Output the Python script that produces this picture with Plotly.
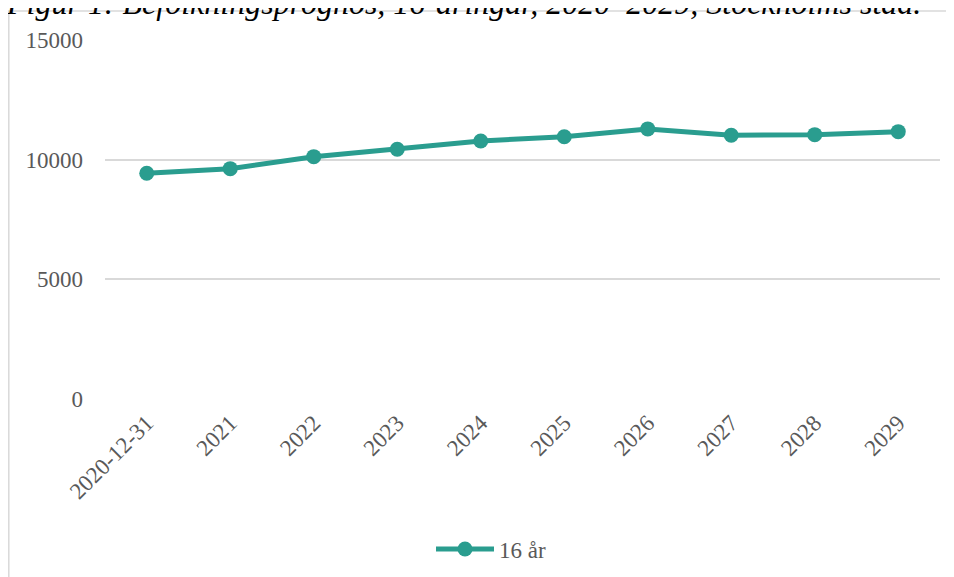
import plotly.graph_objects as go

categories = ["2020-12-31", "2021", "2022", "2023", "2024", "2025", "2026", "2027", "2028", "2029"]
values_16 = [9430, 9625, 10125, 10435, 10780, 10960, 11285, 11020, 11045, 11170]
series_name = "16 år"
title_text = "Figur 1: Befolkningsprognos, 16-åringar, 2020–2029, Stockholms stad."
y_ticks = [0, 5000, 10000, 15000]
y_ticktext = ["0", "5000", "10000", "15000"]

# page body offset (default 8px margin of the html body)
OFF = 8
W, H = 954, 577
# plot area in screen pixels: x 105..940, y 40..399
L = 105 - OFF
T = 40 - OFF
R = W - (940 - OFF)
B = H - (399 - OFF)
pw, ph = W - L - R, H - T - B


def px_x(p):
    """screen x pixel -> paper coordinate"""
    return (p - OFF - L) / pw


def px_y(p):
    """screen y pixel -> paper coordinate"""
    return (H - B - (p - OFF)) / ph


teal = "#2a9d8f"
grey_text = "#595959"
font_family = "Liberation Serif, Times New Roman, serif"

fig = go.Figure()
fig.add_trace(go.Scatter(
    x=categories, y=values_16, name=series_name, mode="lines+markers",
    line=dict(color=teal, width=5),
    marker=dict(color=teal, size=15),
))

fig.update_layout(
    width=W, height=H,
    margin=dict(l=L, r=R, t=T, b=B, autoexpand=False),
    paper_bgcolor="white", plot_bgcolor="white",
    font=dict(family=font_family, size=23, color=grey_text),
    showlegend=True,
    legend=dict(orientation="h", x=px_x(491), xanchor="center", y=px_y(549), yanchor="middle",
                itemwidth=58,
                font=dict(family=font_family, size=23, color=grey_text)),
    xaxis=dict(type="category", range=[-0.5, len(categories) - 0.5], tickangle=-45,
               showgrid=False, zeroline=False, showline=False, ticks="",
               ticklabelstandoff=5, tickfont=dict(size=23), automargin=False),
    yaxis=dict(range=[0, 15000], tickvals=y_ticks, ticktext=y_ticktext, showgrid=True,
               gridcolor="#d9d9d9", gridwidth=1.5, zeroline=False, showline=False, ticks="",
               ticklabelstandoff=21, tickfont=dict(size=23), automargin=False),
    shapes=[dict(type="rect", xref="paper", yref="paper",
                 x0=px_x(8.8), x1=px_x(970), y0=px_y(600), y1=px_y(11),
                 line=dict(color="#d9d9d9", width=1.5), fillcolor="rgba(0,0,0,0)", layer="below")],
    annotations=[dict(text="<i>" + title_text + "</i>", xref="paper", yref="paper",
                      x=px_x(4), y=px_y(23.5), xanchor="left", yanchor="bottom", showarrow=False,
                      font=dict(family=font_family, size=32, color="black"))],
)

fig.write_html("out.html")
